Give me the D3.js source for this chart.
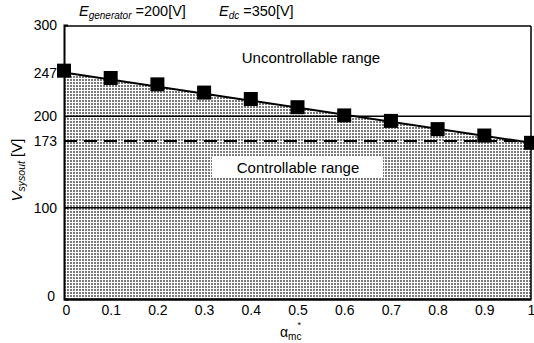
<!DOCTYPE html>
<html><head><meta charset="utf-8">
<script src="https://cdn.jsdelivr.net/npm/d3@7"></script>
<style>body{margin:0;background:#fff}svg{display:block;font-family:"Liberation Sans",Arial,sans-serif}</style>
</head><body><svg id="c" width="534" height="343"></svg>
<script>
const alphaVals = [0,0.1,0.2,0.3,0.4,0.5,0.6,0.7,0.8,0.9,1];
const markerVals = [250,242,235,226,219,210,201,195,186,179,171];
const boundaryX = [0,1];
const boundaryV = [248,171];
const xTicks = [0,0.1,0.2,0.3,0.4,0.5,0.6,0.7,0.8,0.9,1];
const yTicks = [0,100,173,200,247,300];
const solidLines = [100,200];
const dashedLine = 173;

const svg = d3.select("#c");
const L=64,R=531,T=25,B=299;
const x = d3.scaleLinear().domain([0,1]).range([L,R]);
const y = d3.scaleLinear().domain([0,300]).range([B,T]);

const defs = svg.append("defs");
const pat = defs.append("pattern").attr("id","dots").attr("patternUnits","userSpaceOnUse")
  .attr("width",3).attr("height",3);
pat.append("rect").attr("width",3).attr("height",3).attr("fill","#fff");
pat.append("rect").attr("x",1).attr("y",1).attr("width",2).attr("height",2).attr("fill","#7a7a7a");

const bpts = boundaryX.map((d,i)=>[d,boundaryV[i]]);
svg.append("path").datum(bpts)
  .attr("d", d3.area().x(d=>x(d[0])).y0(y(0)).y1(d=>y(d[1])))
  .attr("fill","url(#dots)");

// horizontal lines
svg.selectAll(".hl").data(solidLines).join("line")
  .attr("x1",L).attr("x2",R).attr("y1",d=>y(d)).attr("y2",d=>y(d))
  .attr("stroke","#000").attr("stroke-width",1.5);
svg.append("line").attr("x1",L).attr("x2",R).attr("y1",y(dashedLine)).attr("y2",y(dashedLine))
  .attr("stroke","#000").attr("stroke-width",2).attr("stroke-dasharray","13,7");

// boundary line
svg.append("path").datum(bpts)
  .attr("d", d3.line().x(d=>x(d[0])).y(d=>y(d[1])))
  .attr("fill","none").attr("stroke","#000").attr("stroke-width",2);

// frame
svg.append("line").attr("x1",L).attr("x2",R).attr("y1",T+1).attr("y2",T+1).attr("stroke","#000").attr("stroke-width",1.5);
svg.append("line").attr("x1",R).attr("x2",R).attr("y1",T+1).attr("y2",B).attr("stroke","#000").attr("stroke-width",1.5);

// axes
const yAx = svg.append("g").attr("transform",`translate(${L},0)`)
  .call(d3.axisLeft(y).tickValues(yTicks).tickSize(-4).tickPadding(7).tickFormat(d3.format("d")));
yAx.select(".domain").attr("stroke-width",2);
yAx.selectAll("text").attr("font-size",14).attr("fill","#000").attr("font-family","Liberation Sans, Arial, sans-serif");
yAx.selectAll(".tick").filter(d=>d===0).select("text").attr("dx",-2).attr("dy","0.1em");

const xAx = svg.append("g").attr("transform",`translate(0,${B})`)
  .call(d3.axisBottom(x).tickValues(xTicks).tickSize(0).tickPadding(6).tickFormat(d=>d===0?"0":d===1?"1":d3.format(".1f")(d)));
xAx.select(".domain").attr("stroke-width",2.5);
xAx.selectAll("text").attr("font-size",14).attr("fill","#000").attr("font-family","Liberation Sans, Arial, sans-serif");
xAx.selectAll(".tick").filter(d=>d===0).select("text").attr("dx",2);

// markers
svg.selectAll(".m").data(alphaVals).join("rect")
  .attr("x",(d)=>x(d)-7).attr("y",(d,i)=>y(markerVals[i])-7)
  .attr("width",14).attr("height",14).attr("fill","#000");

// region labels
svg.append("text").attr("x",311).attr("y",63).attr("text-anchor","middle")
  .attr("font-size",15).text("Uncontrollable range");
svg.append("rect").attr("x",212).attr("y",157).attr("width",171).attr("height",21).attr("fill","#fff");
svg.append("text").attr("x",298).attr("y",173).attr("text-anchor","middle")
  .attr("font-size",15).text("Controllable range");

// title
const t = svg.append("text").attr("x",79).attr("y",16).attr("font-size",14.5);
t.append("tspan").attr("font-style","italic").text("E");
t.append("tspan").attr("font-style","italic").attr("font-size",10).attr("dy",3).text("generator");
t.append("tspan").attr("dy",-3).text(" =200[V]");
const t2 = svg.append("text").attr("x",219).attr("y",16).attr("font-size",14.5);
t2.append("tspan").attr("font-style","italic").text("E");
t2.append("tspan").attr("font-style","italic").attr("font-size",10).attr("dy",3).text("dc");
t2.append("tspan").attr("dy",-3).text(" =350[V]");

// x title
const xt = svg.append("text").attr("x",280).attr("y",337).attr("font-size",14);
xt.append("tspan").text("α");
xt.append("tspan").attr("font-size",10).attr("dy",3).text("mc");
xt.append("tspan").attr("font-size",9).attr("dx",-4).attr("dy",-12).text("*");

// y title
const yt = svg.append("text").attr("transform","translate(22,170) rotate(-90)").attr("text-anchor","middle").attr("font-size",15);
yt.append("tspan").attr("font-style","italic").text("V");
yt.append("tspan").attr("font-style","italic").attr("font-size",10.5).attr("dy",3).text("sysout");
yt.append("tspan").attr("dy",-3).text(" [V]");
</script></body></html>
